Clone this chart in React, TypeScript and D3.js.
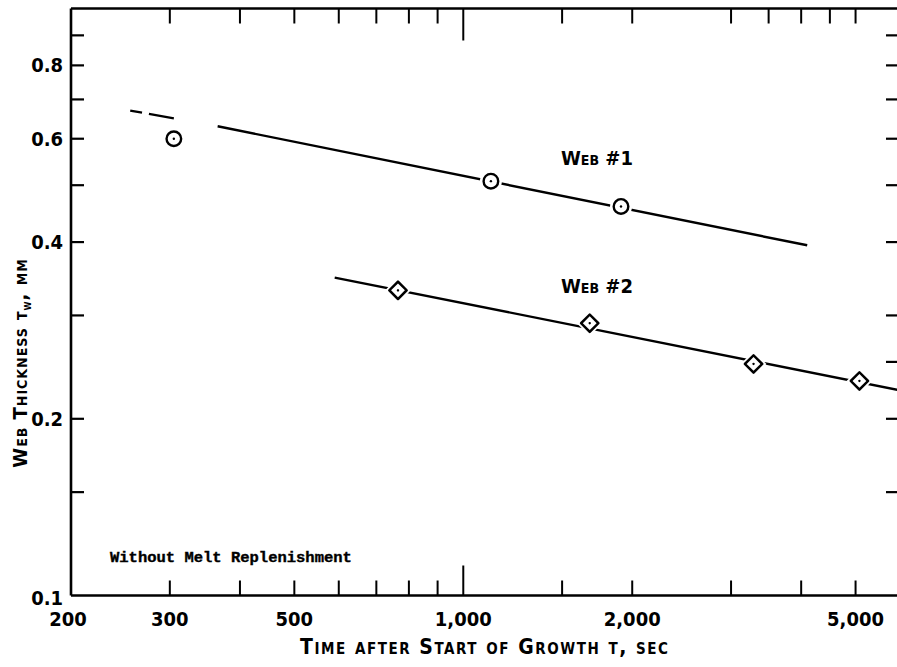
import React from 'react';
import * as d3 from 'd3';

// time after start of growth (sec) and web thickness (mm)
const web1Time = [305, 1120, 1910];
const web1Thick = [0.6, 0.508, 0.46];
const web2Time = [765, 1680, 3290, 5080];
const web2Thick = [0.331, 0.291, 0.248, 0.232];

// fitted lines (end points)
const web1DashTime = [255, 305];
const web1DashThick = [0.67, 0.65];
const web1FitTime = [365, 4100];
const web1FitThick = [0.63, 0.395];
const web2FitTime = [590, 5950];
const web2FitThick = [0.348, 0.224];

const xTicksBottom = [300, 400, 500, 600, 700, 800, 900, 1000, 1500, 2000, 3000, 4000, 5000];
const xTicksTop = [300, 400, 500, 600, 700, 800, 900, 1000, 1500, 2000, 3000, 3500, 4000, 4500, 5000];
const xLabelValues = [200, 300, 500, 1000, 2000, 5000];
const xLabelTexts = ['200', '300', '500', '1,000', '2,000', '5,000'];
const yTicksLeft = [0.15, 0.2, 0.3, 0.4, 0.5, 0.6, 0.7, 0.8, 0.9];
const yTicksRight = [0.15, 0.2, 0.25, 0.3, 0.4, 0.5, 0.6, 0.7, 0.8, 0.9];
const yLabelValues = [0.1, 0.2, 0.4, 0.6, 0.8];
const yLabelTexts = ['0.1', '0.2', '0.4', '0.6', '0.8'];

const W = 897;
const H = 667;
const left = 71;
const right = 900;
const top = 8.5;
const bottom = 595.5;

const narrow = "'DejaVu Sans Condensed', 'Liberation Sans Narrow', sans-serif";

const App = () => {
  const x = d3.scaleLog().domain([200, 6000]).range([left, right]);
  const y = d3.scaleLog().domain([0.1, 1]).range([bottom, top]);

  const seg = (ts: number[], vs: number[]) =>
    d3
      .line<number>()
      .x((d) => x(d))
      .y((_, i) => y(vs[i]))(ts) as string;

  const diamond = d3.symbol().type(d3.symbolSquare).size(150)() as string;

  return (
    <svg
      width={W}
      height={H}
      style={{ position: 'absolute', left: 0, top: 0, background: '#fff' }}
    >
      {/* frame */}
      <line x1={left} y1={top} x2={W} y2={top} stroke="#000" strokeWidth={2.6} />
      <line x1={left} y1={top} x2={left} y2={bottom} stroke="#000" strokeWidth={2.6} />
      <line x1={left} y1={bottom} x2={W} y2={bottom} stroke="#000" strokeWidth={2.6} />

      {/* x ticks */}
      {xTicksBottom.map((t) => (
        <line
          key={'b' + t}
          x1={x(t)}
          x2={x(t)}
          y1={bottom}
          y2={bottom - (t === 1000 ? 30 : 15)}
          stroke="#000"
          strokeWidth={2}
        />
      ))}
      {xTicksTop.map((t) => (
        <line
          key={'t' + t}
          x1={x(t)}
          x2={x(t)}
          y1={top}
          y2={top + (t === 1000 ? 32 : 15)}
          stroke="#000"
          strokeWidth={2}
        />
      ))}
      {/* y ticks */}
      {yTicksLeft.map((t) => (
        <line key={'l' + t} x1={left} x2={left + 13} y1={y(t)} y2={y(t)} stroke="#000" strokeWidth={2.2} />
      ))}
      {yTicksRight.map((t) => (
        <line key={'r' + t} x1={886} x2={W} y1={y(t)} y2={y(t)} stroke="#000" strokeWidth={2.2} />
      ))}

      {/* tick labels */}
      {xLabelValues.map((v, i) => (
        <text
          key={'xl' + v}
          x={x(v) - (i === 0 ? 3 : 0)}
          y={626}
          textAnchor="middle"
          fontFamily={narrow}
          fontWeight="bold"
          fontSize={20}
        >
          {xLabelTexts[i]}
        </text>
      ))}
      {yLabelValues.map((v, i) => (
        <text
          key={'yl' + v}
          x={63}
          y={y(v) + (i === 0 ? 2 : 0)}
          dy="0.35em"
          textAnchor="end"
          fontFamily={narrow}
          fontWeight="bold"
          fontSize={20}
        >
          {yLabelTexts[i]}
        </text>
      ))}

      {/* axis titles */}
      <text
        x={300}
        y={654}
        fontFamily={narrow}
        fontWeight="bold"
        fontSize={21}
        textLength={368}
        lengthAdjust="spacing"
        style={{ fontVariant: 'small-caps' }}
      >
        Time after Start of Growth τ, sec
      </text>
      <text
        transform="translate(27,363) rotate(-90)"
        textAnchor="middle"
        fontFamily={narrow}
        fontWeight="bold"
        fontSize={20}
        style={{ fontVariant: 'small-caps', letterSpacing: '1px' }}
      >
        Web Thickness τ
        <tspan fontSize={13} dy={4}>w</tspan>
        <tspan dy={-4}>, mm</tspan>
      </text>

      {/* fitted lines */}
      <path d={seg(web1DashTime, web1DashThick)} fill="none" stroke="#000" strokeWidth={2.4} strokeDasharray="12 7 26 60" />
      <path d={seg(web1FitTime, web1FitThick)} fill="none" stroke="#000" strokeWidth={2.4} />
      <path d={seg(web2FitTime, web2FitThick)} fill="none" stroke="#000" strokeWidth={2.4} />

      {/* web #1 circles */}
      {web1Time.map((t, i) => (
        <g key={'c' + t} transform={`translate(${x(t)},${y(web1Thick[i])})`}>
          <circle r={11} fill="#fff" />
          <circle r={7.3} fill="#fff" stroke="#000" strokeWidth={2.4} />
          <circle r={1.2} fill="#000" />
        </g>
      ))}
      {/* web #2 diamonds */}
      {web2Time.map((t, i) => (
        <g key={'d' + t} transform={`translate(${x(t)},${y(web2Thick[i])}) rotate(45)`}>
          <path d={diamond} fill="#fff" stroke="#fff" strokeWidth={6} />
          <path d={diamond} fill="#fff" stroke="#000" strokeWidth={2.5} strokeLinejoin="round" />
          <circle r={1.2} fill="#000" />
        </g>
      ))}

      {/* annotations */}
      <text x={561} y={165} fontFamily={narrow} fontWeight="bold" fontSize={20} style={{ fontVariant: 'small-caps' }}>
        Web #1
      </text>
      <text x={561} y={293} fontFamily={narrow} fontWeight="bold" fontSize={20} style={{ fontVariant: 'small-caps' }}>
        Web #2
      </text>
      <text
        x={110}
        y={562}
        fontFamily="'Liberation Mono', 'DejaVu Sans Mono', monospace"
        fontWeight="bold"
        fontSize={15.5}
        stroke="#000"
        strokeWidth={0.4}
      >
        Without Melt Replenishment
      </text>
    </svg>
  );
};

export default App;
